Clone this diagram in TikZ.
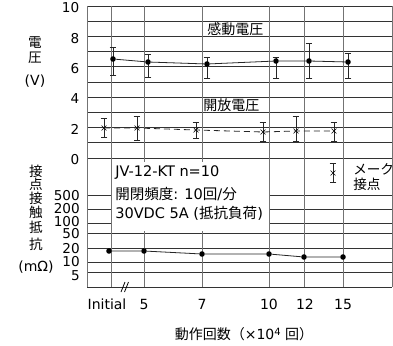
\documentclass[tikz,border=0pt]{standalone}
\usepackage{fontspec}
\setmainfont{DejaVu Sans}
\newfontfamily\jp{Noto Sans CJK JP}
\usetikzlibrary{arrows.meta,shapes.misc}
\begin{document}
\begin{tikzpicture}[x=0.75pt,y=-0.75pt]
\tikzset{
  gridh/.style={draw=black!80, line width=0.6pt},
  gridv/.style={draw=black!55, line width=0.6pt},
  dataline/.style={draw=black!85, line width=0.6pt},
  dashline/.style={draw=black!85, line width=0.6pt, dash pattern=on 4.5pt off 3pt},
  errbar/.style={draw=black!85, line width=0.6pt, {Bar[width=5pt]}-{Bar[width=5pt]}},
  dot/.style={circle, fill=black, inner sep=0pt, minimum size=4.2pt},
  xmark/.style={cross out, draw=black, line width=0.45pt, inner sep=0pt, minimum size=3.2pt},
  lbl/.style={font=\fontsize{10.5}{12}\selectfont, inner sep=0pt},
  leg/.style={font=\fontsize{10.9}{12}\selectfont, inner sep=0pt, anchor=west},
  num/.style={font=\fontsize{10.2}{12}\selectfont, inner sep=0pt, anchor=east},
  jlbl/.style={font=\jp\fontsize{10.2}{12}\selectfont, inner sep=0pt},
}
\useasboundingbox (0,0) rectangle (393,346);
\fill[white] (0,0) rectangle (393,346);
% grid
\foreach \k in {0,...,10} \draw[gridh] (87,{158-15.2*\k}) -- (392.4,{158-15.2*\k});
\foreach \y in {195,209,223,233,248,262,272,287} \draw[gridh] (87,\y) -- (392.4,\y);
\foreach \x in {87,111,144,202,269,304,343,392.4} \draw[gridv] (\x,6) -- (\x,287);
% axis break
\draw[line width=0.6pt] (121,292) -- (125,282);
\draw[line width=0.6pt] (124.5,292) -- (128.5,282);
% y tick labels
\foreach \v in {0,2,4,6,8,10} \node[num] (u\v) at (79.5,{158-15.2*\v+1.8}) {\v};
\foreach \v/\y in {500/196,200/209,100/221.5,50/234,20/249,10/262,5/275.5} \node[num] (l\v) at (80,\y) {\v};
% y axis titles
\node[jlbl] (t1) at (35,42.5) {電};
\node[jlbl] (t2) at (35,57.5) {圧};
\node[lbl] (t3) at (35,81.5) {(V)};
\node[jlbl] (r1) at (36,171) {接};
\node[jlbl] (r2) at (36,184.5) {点};
\node[jlbl] (r3) at (36,198) {接};
\node[jlbl] (r4) at (36,212) {触};
\node[jlbl] (r5) at (36,227) {抵};
\node[jlbl] (r6) at (36,244) {抗};
\node[lbl] (r7) at (36,267) {(mΩ)};
% x tick labels
\foreach \n/\x/\t in {i/107/Initial,a/144/5,b/202/7,c/269/10,d/305/12,e/343/15}
  \node[lbl] (x\n) at (\x,304) {\t};
\node[lbl] (xt) at (244,334) {\jp 動作回数（\rm ×10\raisebox{0.55ex}{\fontsize{7.5}{8}\selectfont 4} \jp 回）};
% series labels
\node[jlbl, anchor=south west, font=\jp\fontsize{10.5}{12}\selectfont] (ls) at (207,36.4) {感動電圧};
\node[jlbl, anchor=south west, font=\jp\fontsize{10.5}{12}\selectfont] (lo) at (203,112.4) {開放電圧};
% sensitivity voltage
\foreach \n/\x/\y/\t/\b in {1/113/59/47/76,2/148/62/54/78,3/207/64/57/79,4/276/61/57/79,5/309/61/43/79,6/348/62/53/79}{
  \coordinate (s\n t) at (\x,\t);
  \coordinate (s\n b) at (\x,\b);
  \draw[errbar] (s\n t) -- (s\n b);
  \node[dot] (s\n) at (\x,\y) {};
}
\draw[dataline] (s1) -- (s2) -- (s3) -- (s4) -- (s5) -- (s6);
% open voltage
\foreach \n/\x/\y/\t/\b in {1/104/128/118/138,2/137/128/116/141,3/196/130/122/139,4/263/132/122/142,5/296/131/116/142,6/334/131/122/142}{
  \coordinate (o\n t) at (\x,\t);
  \coordinate (o\n b) at (\x,\b);
  \draw[errbar] (o\n t) -- (o\n b);
  \node[xmark] (o\n) at (\x,\y) {};
}
\draw[dashline] (o1.center) -- (o2.center) -- (o3.center) -- (o4.center) -- (o5.center) -- (o6.center);
% contact resistance
\foreach \n/\x/\y in {1/109/251,2/144/251,3/202/254,4/269/254,5/304/257,6/343/257}
  \node[dot] (c\n) at (\x,\y) {};
\draw[dataline] (c1) -- (c2) -- (c3) -- (c4) -- (c5) -- (c6);
% legend box
\fill[white] (112,162) rectangle (268.5,231);
\node[leg] (g1) at (115,173) {JV-12-KT n=10};
\node[leg] (g2) at (115,194) {\jp 開閉頻度\rm: 10\jp 回\rm/\jp 分};
\node[leg] (g3) at (115,213) {30VDC 5A (\jp 抵抗負荷\rm)};
% make-contact legend
\coordinate (mt) at (333,163);
\coordinate (mb) at (333,183);
\draw[errbar] (mt) -- (mb);
\node[xmark] (mx) at (333,173) {};
\node[jlbl, anchor=west] (m1) at (353,169) {メーク};
\node[jlbl, anchor=west] (m2) at (353,184) {接点};
\end{tikzpicture}
\end{document}
